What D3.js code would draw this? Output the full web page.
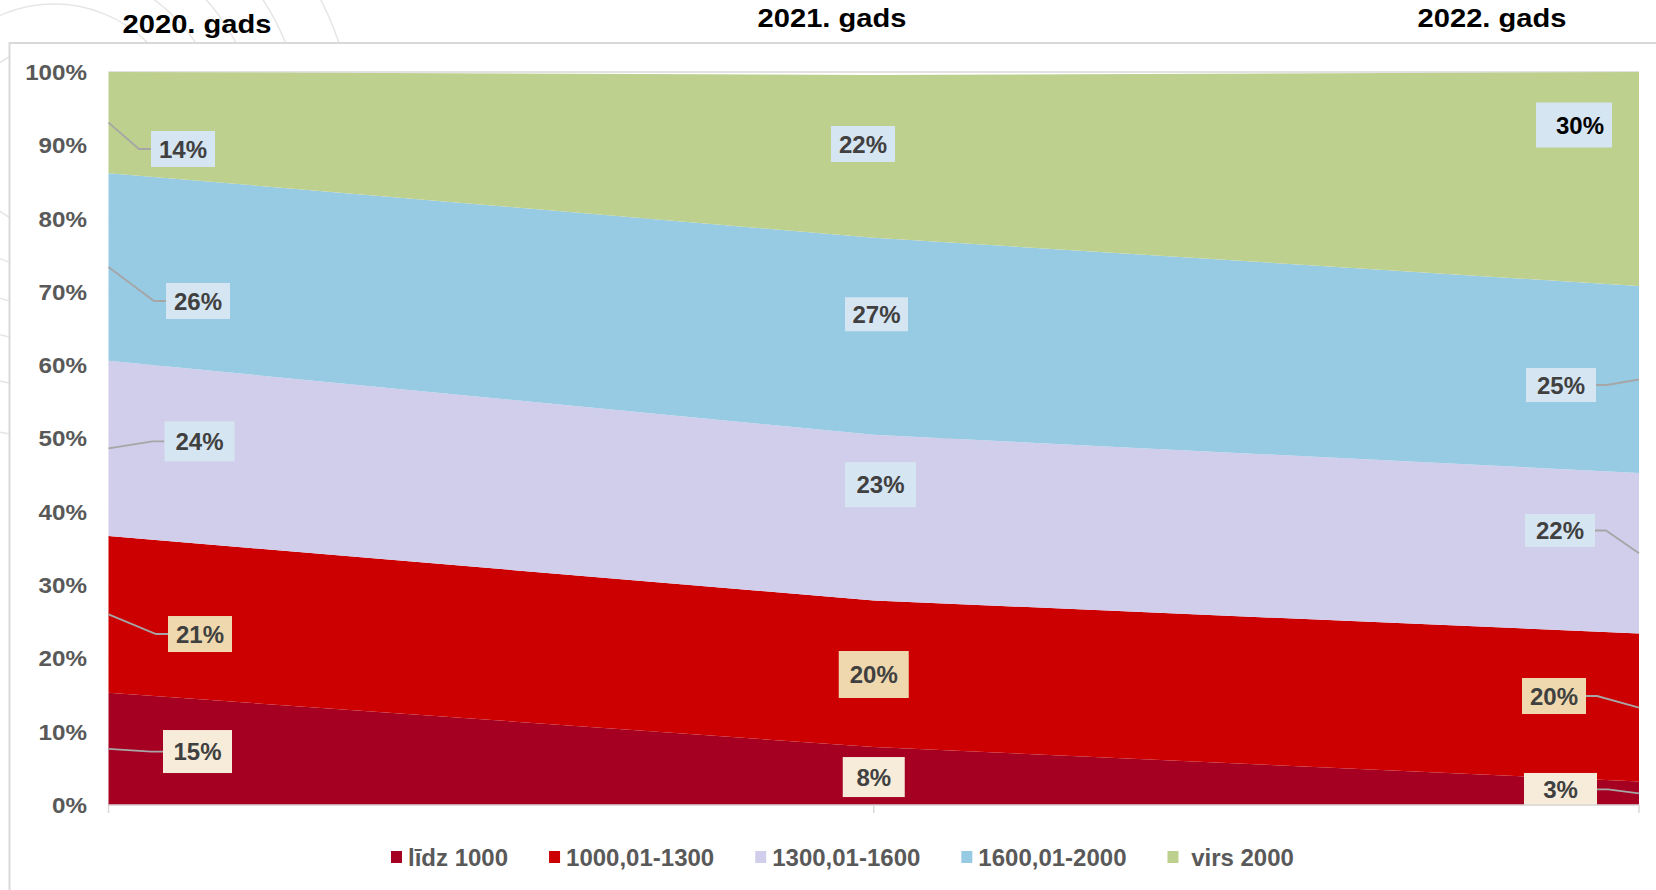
<!DOCTYPE html>
<html><head><meta charset="utf-8">
<script src="https://cdn.jsdelivr.net/npm/d3@7"></script>
<style>
html,body{margin:0;padding:0;background:#fff;}
svg{display:block;font-family:"Liberation Sans",Arial,sans-serif;}
</style></head>
<body>
<svg id="chart" width="1656" height="890"></svg>
<script>
// ---- data ----
const categories = ["2020. gads", "2021. gads", "2022. gads"];
const seriesNames = ["līdz 1000", "1000,01-1300", "1300,01-1600", "1600,01-2000", " virs 2000"];
const lidz1000   = [15.3, 7.9, 3.2];
const s1000_1300 = [21.4, 20.0, 20.2];
const s1300_1600 = [23.9, 22.6, 21.9];
const s1600_2000 = [25.6, 26.9, 25.5];
const virs2000   = [13.8, 22.2, 29.2];
const valueLabels = [
  ["15%", "8%", "3%"],
  ["21%", "20%", "20%"],
  ["24%", "23%", "22%"],
  ["26%", "27%", "25%"],
  ["14%", "22%", "30%"]
];
const yTicks = [0, 10, 20, 30, 40, 50, 60, 70, 80, 90, 100];
const yTickLabels = yTicks.map(v => v + "%");

// ---- styling / layout ----
const seriesColors = ["#A50021", "#CC0000", "#D1CEEC", "#97CAE3", "#BDD08D"];
const labelFills   = ["#F7ECD9", "#EFD8AE", "#D6E5F2", "#D6E5F2", "#D6E5F2"];
// per label: [dx, dy, boxW, boxH, leader]
const labelLayout = [
  [[89, 2.6, 69, 43, true], [0, 1, 62, 40, false], [-78.5, -3.8, 73, 33, true]],
  [[91.5, 19.6, 64, 36, true], [0, 0.7, 70, 47, false], [-85, -11.5, 64, 36, true]],
  [[91, -7, 70, 40, true], [6.75, -33, 71, 45, false], [-79, -22.7, 70, 33, true]],
  [[89.5, 34, 64, 36, true], [2.75, -22, 63, 34, false], [-78, 5.5, 70, 34, true]],
  [[74.5, 26.4, 64, 36, true], [-10.75, -12.3, 64, 36, false], [-65, -54, 76, 45, false]]
];
const titleLayout = [[88.5, 33], [-41.75, 27], [-147, 27]];

const svg = d3.select("#chart");
const W = 1656, H = 890;
const plot = {left: 108.5, right: 1639, top: 72, bottom: 805};

// background decorative arcs
const arcG = svg.append("g");
[92, 133, 170, 205, 250, 300].forEach(r => {
  arcG.append("circle").attr("cx", 54).attr("cy", 137).attr("r", r)
    .attr("fill", "none").attr("stroke", "#e6e6e6").attr("stroke-width", 1.5);
});
// frame
svg.append("rect").attr("x", 9.5).attr("y", 43).attr("width", W).attr("height", H)
  .attr("fill", "#fff").attr("stroke", "#d9d9d9").attr("stroke-width", 2);

const x = d3.scalePoint().domain(categories).range([plot.left, plot.right]);
const y = d3.scaleLinear().domain([0, 100]).range([plot.bottom, plot.top]);

// gridlines
svg.append("g").selectAll("line").data(yTicks).join("line")
  .attr("x1", plot.left).attr("x2", plot.right)
  .attr("y1", d => y(d)).attr("y2", d => y(d))
  .attr("stroke", "#d9d9d9").attr("stroke-width", 1.3);

// stack
const seriesArrays = [lidz1000, s1000_1300, s1300_1600, s1600_2000, virs2000];
const rows = categories.map((c, j) => {
  const o = {cat: c};
  seriesNames.forEach((n, i) => o[n] = seriesArrays[i][j]);
  return o;
});
const stack = d3.stack().keys(seriesNames)(rows);

const area = d3.area()
  .x(d => x(d.data.cat))
  .y0(d => y(d[0]))
  .y1(d => y(d[1]));

svg.append("g").selectAll("path").data(stack).join("path")
  .attr("d", area)
  .attr("fill", (d, i) => seriesColors[i]);

// y axis labels
const yAxisG = svg.append("g");
yTicks.forEach((v, i) => {
  yAxisG.append("text")
    .attr("transform", `translate(87,${y(v)}) scale(1.1,1)`)
    .attr("dy", "0.36em")
    .attr("text-anchor", "end")
    .attr("font-size", 22).attr("font-weight", "bold").attr("fill", "#595959")
    .text(yTickLabels[i]);
});

// data labels
const labG = svg.append("g");
stack.forEach((s, i) => {
  s.forEach((d, j) => {
    const [dx, dy, bw, bh, leader] = labelLayout[i][j];
    const ax = x(d.data.cat);
    const ay = y((d[0] + d[1]) / 2);
    const cx = ax + dx, cy = ay + dy;
    const bx = cx - bw / 2;
    if (leader) {
      let pts;
      if (j === 0) pts = [[ax, ay], [bx - 12, cy], [bx, cy]];
      else pts = [[bx + bw, cy], [bx + bw + 11, cy], [ax, ay]];
      labG.append("path").attr("d", d3.line()(pts))
        .attr("fill", "none").attr("stroke", "#a6a6a6").attr("stroke-width", 1.8);
    }
    labG.append("rect").attr("x", bx).attr("y", cy - bh / 2)
      .attr("width", bw).attr("height", bh).attr("fill", labelFills[i]);
    const special = (i === 4 && j === 2);
    labG.append("text")
      .attr("x", cx + (special ? 6 : 0)).attr("y", cy).attr("dy", "0.36em")
      .attr("text-anchor", "middle")
      .attr("font-size", 24).attr("font-weight", "bold")
      .attr("fill", special ? "#000" : "#404040")
      .text(valueLabels[i][j]);
  });
});

// x axis line + ticks
svg.append("line").attr("x1", plot.left).attr("x2", plot.right)
  .attr("y1", plot.bottom).attr("y2", plot.bottom)
  .attr("stroke", "#d9d9d9").attr("stroke-width", 1.5);
svg.append("g").selectAll("line").data(categories).join("line")
  .attr("x1", d => x(d)).attr("x2", d => x(d))
  .attr("y1", plot.bottom).attr("y2", plot.bottom + 8)
  .attr("stroke", "#d9d9d9").attr("stroke-width", 1.5);

// year titles
categories.forEach((c, j) => {
  svg.append("text")
    .attr("transform", `translate(${x(c) + titleLayout[j][0]},${titleLayout[j][1]}) scale(1.12,1)`)
    .attr("text-anchor", "middle")
    .attr("font-size", 26).attr("font-weight", "bold").attr("fill", "#000")
    .text(c);
});

// legend
const leg = svg.append("g");
let lx = 391;
seriesNames.forEach((n, i) => {
  leg.append("rect").attr("x", lx).attr("y", 851).attr("width", 11).attr("height", 12)
    .attr("fill", seriesColors[i]);
  const t = leg.append("text").attr("x", lx + 17).attr("y", 865.5)
    .attr("font-size", 24).attr("font-weight", "bold").attr("fill", "#595959")
    .style("white-space", "pre")
    .text(n);
  lx += 17 + t.node().getComputedTextLength() + 41;
});
</script>
</body></html>
